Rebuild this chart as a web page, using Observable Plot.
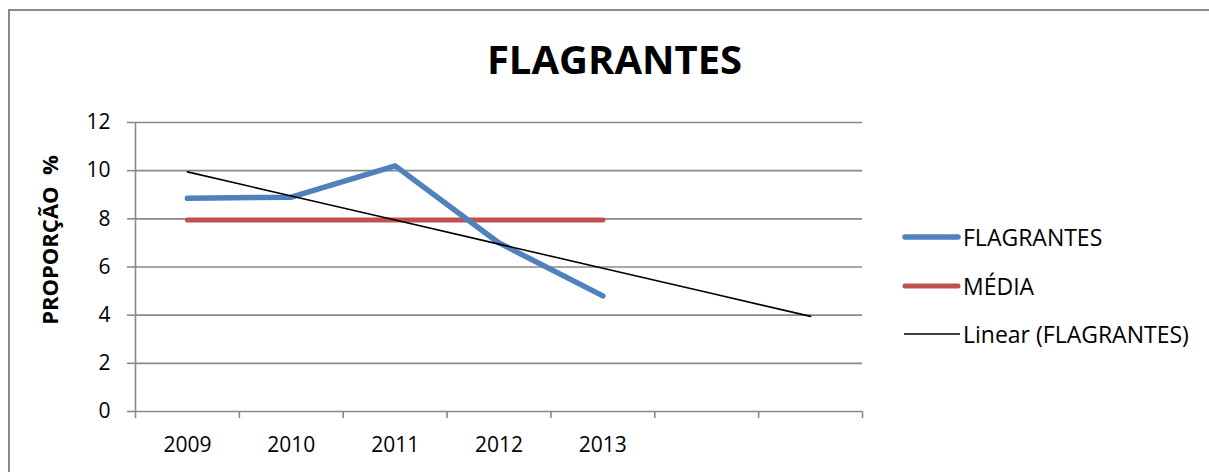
<!DOCTYPE html>
<html>
<head>
<meta charset="utf-8">
<script src="https://cdn.jsdelivr.net/npm/d3@7"></script>
<script src="https://cdn.jsdelivr.net/npm/@observablehq/plot@0.6"></script>
<style>
  body { margin: 0; background: #fff; font-family: "Open Sans", sans-serif; }
  #wrap { position: relative; width: 1209px; height: 472px; overflow: hidden; }
  #frame { position: absolute; left: 8px; top: 9px; width: 1300px; height: 600px;
           border-left: 2px solid #898989; border-top: 2px solid #898989; }
  #title { position: absolute; left: 0; width: 1229px; top: 31px; text-align: center;
           font-weight: bold; font-size: 40px; color: #000; }
  #chart { position: absolute; left: 0; top: 0; }
  #legend { position: absolute; left: 901px; top: 213px; font-size: 23px; color: #000; }
  .item { display: flex; align-items: center; height: 48.5px; }
  .item svg { margin-right: 2px; }
</style>
</head>
<body>
<div id="wrap">
  <div id="frame"></div>
  <div id="chart"></div>
  <div id="title">FLAGRANTES</div>
  <div id="legend"></div>
</div>
<script>
const years = ["2009", "2010", "2011", "2012", "2013"];
const flagrantes = [8.85, 8.9, 10.2, 7.0, 4.8];
const media = [7.95, 7.95, 7.95, 7.95, 7.95];
const trendPeriods = [1, 2, 3, 4, 5, 6, 7];
const trendValues = [9.95, 8.95, 7.95, 6.95, 5.95, 4.95, 3.95];
const yTicks = [0, 2, 4, 6, 8, 10, 12];
const seriesNames = ["FLAGRANTES", "MÉDIA", "Linear (FLAGRANTES)"];
const seriesColors = ["#4F81BD", "#C0504D", "#000000"];

const blueData = years.map((y, i) => ({x: i + 0.5, v: flagrantes[i]}));
const redData = years.map((y, i) => ({x: i + 0.5, v: media[i]}));
const trendData = trendPeriods.map((p, i) => ({x: p - 0.5, v: trendValues[i]}));
const labelData = years.map((y, i) => ({x: i + 0.5, label: y}));

const grid = "#898989";
const plot = Plot.plot({
  width: 1209,
  height: 472,
  marginLeft: 135,
  marginRight: 347,
  marginTop: 122,
  marginBottom: 61,
  style: {fontFamily: "Open Sans, sans-serif", fontSize: "21px", color: "#000", background: "transparent"},
  x: {domain: [0, 7]},
  y: {domain: [0, 12]},
  marks: [
    Plot.ruleY(yTicks, {stroke: grid, strokeWidth: 1.6}),
    Plot.ruleX([0], {stroke: grid, strokeWidth: 1.6}),
    Plot.axisY({ticks: yTicks, tickSize: 8, tickPadding: 17, stroke: grid, strokeWidth: 1.6, label: null, fontSize: 21, fill: "#000"}),
    Plot.axisX({ticks: [0,1,2,3,4,5,6,7], tickSize: 7, tickFormat: () => "", stroke: grid, strokeWidth: 1.6, label: null}),
    Plot.text(labelData, {x: "x", y: () => 0, text: "label", dy: 34, fontSize: 21, fill: "#000"}),
    Plot.text(["PROPORÇÃO\u00a0\u00a0%"], {frameAnchor: "left", textAnchor: "middle", dx: -85, dy: -27, rotate: -90, fontWeight: "bold", fontSize: 22, fill: "#000"}),
    Plot.line(redData, {x: "x", y: "v", stroke: seriesColors[1], strokeWidth: 5, strokeLinecap: "round"}),
    Plot.line(blueData, {x: "x", y: "v", stroke: seriesColors[0], strokeWidth: 5.5, strokeLinecap: "round", strokeLinejoin: "round"}),
    Plot.line(trendData, {x: "x", y: "v", stroke: seriesColors[2], strokeWidth: 1.6})
  ]
});
document.getElementById("chart").appendChild(plot);

const legend = document.getElementById("legend");
seriesNames.forEach((name, i) => {
  const div = document.createElement("div");
  div.className = "item";
  const w = i === 0 ? 5.5 : i === 1 ? 5 : 1.6;
  div.innerHTML = `<svg width="60" height="10"><line x1="${i<2?4:3}" x2="${i<2?57:59}" y1="5" y2="5" stroke="${seriesColors[i]}" stroke-width="${w}" stroke-linecap="${i<2?'round':'butt'}"/></svg><span>${name}</span>`;
  legend.appendChild(div);
});
</script>
</body>
</html>
